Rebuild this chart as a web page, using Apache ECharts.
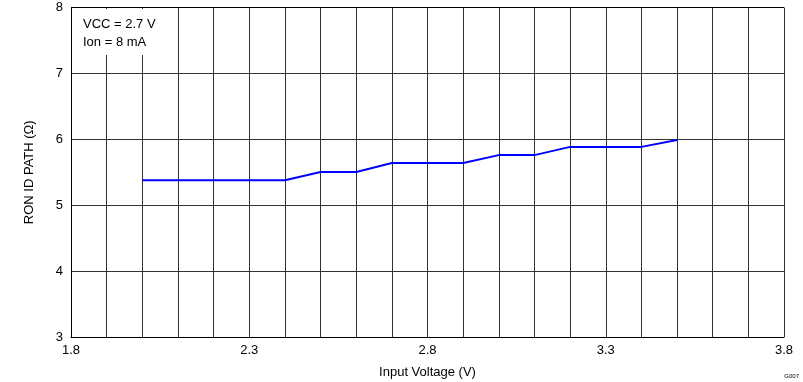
<!DOCTYPE html>
<html>
<head>
<meta charset="utf-8">
<script src="https://cdn.jsdelivr.net/npm/echarts@6/dist/echarts.min.js"></script>
<style>html,body{margin:0;padding:0;background:#fff}#c{width:803px;height:382px}</style>
</head>
<body>
<div id="c"></div>
<script>
const xValues = [2.0, 2.1, 2.2, 2.3, 2.4, 2.5, 2.6, 2.7, 2.8, 2.9, 3.0, 3.1, 3.2, 3.3, 3.4, 3.5];
const ronValues = [5.38, 5.38, 5.38, 5.38, 5.38, 5.505, 5.505, 5.64, 5.64, 5.64, 5.76, 5.76, 5.885, 5.885, 5.885, 5.99];
const xTickLabels = ['1.8', '2.3', '2.8', '3.3', '3.8'];
const yTickLabels = ['3', '4', '5', '6', '7', '8'];
const noteLines = ['VCC = 2.7 V', 'Ion = 8 mA'];

const chart = echarts.init(document.getElementById('c'), null, {renderer: 'canvas'});
const font = 'Arial, "Liberation Sans", sans-serif';
const gridColor = '#333333';
chart.setOption({
  animation: false,
  grid: {left: 71, right: 19, top: 7.5, bottom: 45, containLabel: false, outerBoundsMode: 'none'},
  xAxis: {
    type: 'value', min: 1.8, max: 3.8, interval: 0.1,
    name: 'Input Voltage (V)', nameLocation: 'middle', nameGap: 29,
    nameTextStyle: {fontFamily: font, fontSize: 13, color: '#000'},
    axisLine: {show: true, lineStyle: {color: '#000', width: 1}},
    axisTick: {show: false},
    splitLine: {show: true, lineStyle: {color: gridColor, width: 1}},
    axisLabel: {
      fontFamily: font, fontSize: 13, color: '#000', margin: 7,
      formatter: function (v) {
        const k = Math.round((v - 1.8) * 10);
        if (k % 5 !== 0) return '';
        return xTickLabels[k / 5];
      }
    }
  },
  yAxis: {
    type: 'value', min: 3, max: 8, interval: 1,
    name: 'RON ID PATH (\u03A9)', nameLocation: 'middle', nameGap: 35, nameRotate: 90,
    nameTextStyle: {fontFamily: font, fontSize: 13, color: '#000'},
    axisLine: {show: true, lineStyle: {color: '#000', width: 1}},
    axisTick: {show: false},
    splitLine: {show: true, lineStyle: {color: gridColor, width: 1}},
    axisLabel: {
      fontFamily: font, fontSize: 13, color: '#000', margin: 8,
      formatter: function (v) { return yTickLabels[Math.round(v - 3)]; }
    }
  },
  series: [{
    type: 'line',
    data: xValues.map((x, i) => [x, ronValues[i]]),
    symbol: 'none',
    lineStyle: {color: '#0000FF', width: 2},
    z: 5
  }],
  graphic: [
    {type: 'rect', shape: {x: 72, y: 9, width: 78, height: 46}, style: {fill: '#fff'}, z: 10},
    {type: 'rect', shape: {x: 71, y: 7, width: 713, height: 1}, style: {fill: '#000'}, z: 11},
    {type: 'text', left: 83, top: 18, style: {text: noteLines[0], font: '13px ' + font, fill: '#000'}, z: 12},
    {type: 'text', left: 83, top: 36, style: {text: noteLines[1], font: '13px ' + font, fill: '#000'}, z: 12},
    {type: 'text', right: 4, top: 373, style: {text: 'G007', font: '6px ' + font, fill: '#000'}, z: 12}
  ]
});
</script>
</body>
</html>
